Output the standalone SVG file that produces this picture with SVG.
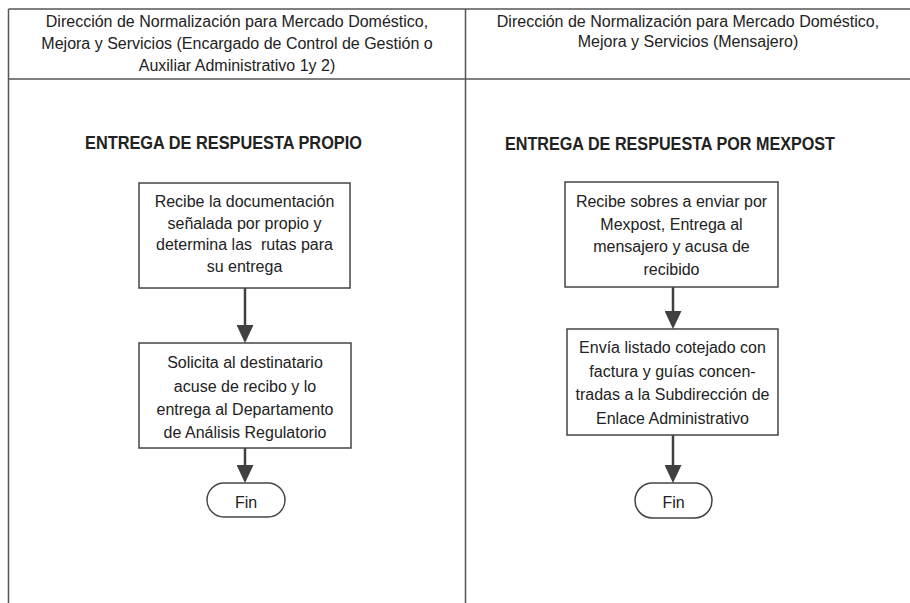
<svg xmlns="http://www.w3.org/2000/svg" width="910" height="603" viewBox="0 0 910 603">
<style>
.frame{stroke:#555;stroke-width:1.5;fill:none}
.box{fill:#fff;stroke:#444;stroke-width:1.5}
.t{font-family:"Liberation Sans",Arial,sans-serif;font-size:16px;fill:#222;text-anchor:middle}
.h{font-weight:bold;font-size:18px}
.conn{stroke:#404040;stroke-width:2.5;fill:none}
</style>
<defs>
<marker id="ah" viewBox="0 0 18 17" markerWidth="18" markerHeight="17" refX="8" refY="8.5" orient="auto" markerUnits="userSpaceOnUse">
<path d="M0,0 L18,8.5 L0,17 z" fill="#404040"/>
</marker>
</defs>
<rect width="910" height="603" fill="#fff"/>
<g id="lanes">
<line class="frame" x1="8.5" y1="9" x2="910" y2="9"/>
<line class="frame" x1="8.5" y1="79" x2="910" y2="79"/>
<line class="frame" x1="8.5" y1="9" x2="8.5" y2="603"/>
<line class="frame" x1="465.5" y1="9" x2="465.5" y2="603"/>
<text class="t" x="237" y="27">Dirección de Normalización para Mercado Doméstico,</text>
<text class="t" x="237" y="49">Mejora y Servicios (Encargado de Control de Gestión o</text>
<text class="t" x="237" y="71">Auxiliar Administrativo 1y 2)</text>
<text class="t" x="688" y="27">Dirección de Normalización para Mercado Doméstico,</text>
<text class="t" x="688" y="47">Mejora y Servicios (Mensajero)</text>
<text class="t h" x="223.5" y="149" textLength="277" lengthAdjust="spacingAndGlyphs">ENTREGA DE RESPUESTA PROPIO</text>
<text class="t h" x="670" y="150" textLength="330" lengthAdjust="spacingAndGlyphs">ENTREGA DE RESPUESTA POR MEXPOST</text>
</g>
<g id="connectors">
<line class="conn" x1="245" y1="288" x2="245" y2="333" marker-end="url(#ah)"/>
<line class="conn" x1="245" y1="448" x2="245" y2="473" marker-end="url(#ah)"/>
<line class="conn" x1="673" y1="287" x2="673" y2="319" marker-end="url(#ah)"/>
<line class="conn" x1="673" y1="435" x2="673" y2="473" marker-end="url(#ah)"/>
</g>
<g id="n1">
<rect class="box" x="139" y="183" width="211" height="105"/>
<text class="t" x="244.5" y="207">Recibe la documentación</text>
<text class="t" x="244.5" y="228.5">señalada por propio y</text>
<text class="t" x="244.5" y="250" style="white-space:pre">determina las  rutas para</text>
<text class="t" x="244.5" y="271.5">su entrega</text>
</g>
<g id="n2">
<rect class="box" x="139" y="343" width="212" height="105"/>
<text class="t" x="245" y="368">Solicita al destinatario</text>
<text class="t" x="245" y="391.5">acuse de recibo y lo</text>
<text class="t" x="245" y="415">entrega al Departamento</text>
<text class="t" x="245" y="438">de Análisis Regulatorio</text>
</g>
<g id="n3">
<rect class="box" x="207" y="483" width="78" height="34" rx="17" ry="17"/>
<text class="t" x="246" y="508">Fin</text>
</g>
<g id="n4">
<rect class="box" x="565" y="182" width="213" height="105"/>
<text class="t" x="671.5" y="207">Recibe sobres a enviar por</text>
<text class="t" x="671.5" y="229.5">Mexpost, Entrega al</text>
<text class="t" x="671.5" y="252">mensajero y acusa de</text>
<text class="t" x="671.5" y="274.5">recibido</text>
</g>
<g id="n5">
<rect class="box" x="567" y="329" width="211" height="106"/>
<text class="t" x="672.5" y="353">Envía listado cotejado con</text>
<text class="t" x="672.5" y="376.5">factura y guías concen-</text>
<text class="t" x="672.5" y="400">tradas a la Subdirección de</text>
<text class="t" x="672.5" y="423.5">Enlace Administrativo</text>
</g>
<g id="n6">
<rect class="box" x="635" y="483" width="77" height="35" rx="17.5" ry="17.5"/>
<text class="t" x="673.5" y="508">Fin</text>
</g>
</svg>
